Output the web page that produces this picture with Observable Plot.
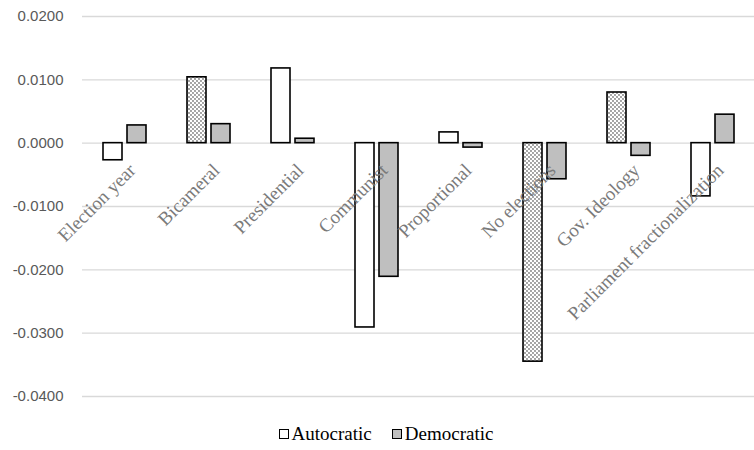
<!DOCTYPE html>
<html>
<head>
<meta charset="utf-8">
<script src="https://cdn.jsdelivr.net/npm/d3@7"></script>
<script src="https://cdn.jsdelivr.net/npm/@observablehq/plot@0.6"></script>
<style>
  html, body { margin: 0; padding: 0; background: white; }
  #chart { width: 754px; }
</style>
</head>
<body>
<div id="chart"></div>
<script>
const categories = ["Election year", "Bicameral", "Presidential", "Communist", "Proportional", "No elections", "Gov. Ideology", "Parliament fractionalization"];
const seriesNames = ["Autocratic", "Democratic"];
const autocratic = [-0.0027, 0.0104, 0.0118, -0.0291, 0.0017, -0.0345, 0.0080, -0.0084];
const democratic = [0.0028, 0.0030, 0.0007, -0.0211, -0.0007, -0.0057, -0.0020, 0.0045];
const autocraticDotted = [false, true, false, false, false, true, true, false];
const yTicks = [-0.04, -0.03, -0.02, -0.01, 0, 0.01, 0.02];
const seriesColors = {Autocratic: "white", Democratic: "#bfbfbf"};

const data = [];
categories.forEach((c, i) => {
  data.push({category: c, series: "Autocratic", value: autocratic[i], dotted: autocraticDotted[i]});
  data.push({category: c, series: "Democratic", value: democratic[i], dotted: false});
});

const svg = Plot.plot({
  width: 754,
  height: 418,
  marginTop: 16,
  marginBottom: 22,
  marginLeft: 82,
  marginRight: 0,
  style: {fontFamily: "'Liberation Sans', Arial, sans-serif", fontSize: "15px", color: "#595959", background: "white"},
  fx: {domain: categories, paddingInner: 0, paddingOuter: 0, axis: null, label: null},
  x: {domain: seriesNames, paddingInner: 0.21, paddingOuter: 0.85, axis: null},
  y: {domain: [-0.04, 0.02], ticks: yTicks, tickFormat: d => d.toFixed(4), tickSize: 0, tickPadding: 19, label: null},
  color: {type: "identity"},
  marks: [
    Plot.ruleY(yTicks, {stroke: "#d9d9d9", strokeWidth: 1.4}),
    Plot.barY(data, {
      fx: "category", x: "series", y: "value",
      fill: d => d.dotted ? "url(#dots)" : seriesColors[d.series],
      stroke: "#000", strokeWidth: 1.6
    }),
    Plot.text(categories, {
      fx: d => d, y: () => 0, text: d => d,
      rotate: -45, textAnchor: "end", dx: 8, dy: 24,
      fontFamily: "'Liberation Serif', serif", fontSize: 19, fill: "#7a7a7a"
    })
  ]
});

const defs = d3.select(svg).insert("defs", ":first-child");
const pat = defs.append("pattern").attr("id", "dots").attr("patternUnits", "userSpaceOnUse").attr("width", 4).attr("height", 4);
pat.append("rect").attr("width", 4).attr("height", 4).attr("fill", "white");
pat.append("circle").attr("cx", 1).attr("cy", 1).attr("r", 0.65).attr("fill", "#000");
pat.append("circle").attr("cx", 3).attr("cy", 3).attr("r", 0.65).attr("fill", "#000");

document.getElementById("chart").appendChild(svg);

const legend = document.createElement("div");
legend.style.cssText = "display:flex;justify-content:center;align-items:center;height:32px;font-family:'Liberation Serif',serif;font-size:19px;color:#000;padding-left:18px;";
seriesNames.forEach(s => {
  const item = document.createElement("div");
  item.style.cssText = "display:flex;align-items:center;margin:0 10px;font-family:'Liberation Serif',serif;";
  const sw = document.createElement("span");
  sw.style.cssText = "display:inline-block;width:8px;height:8px;border:1.6px solid #000;margin-right:3px;background:" + seriesColors[s] + ";";
  const label = document.createElement("span");
  label.style.fontFamily = "'Liberation Serif', serif";
  label.textContent = s;
  item.appendChild(sw);
  item.appendChild(label);
  legend.appendChild(item);
});
document.getElementById("chart").appendChild(legend);
</script>
</body>
</html>
